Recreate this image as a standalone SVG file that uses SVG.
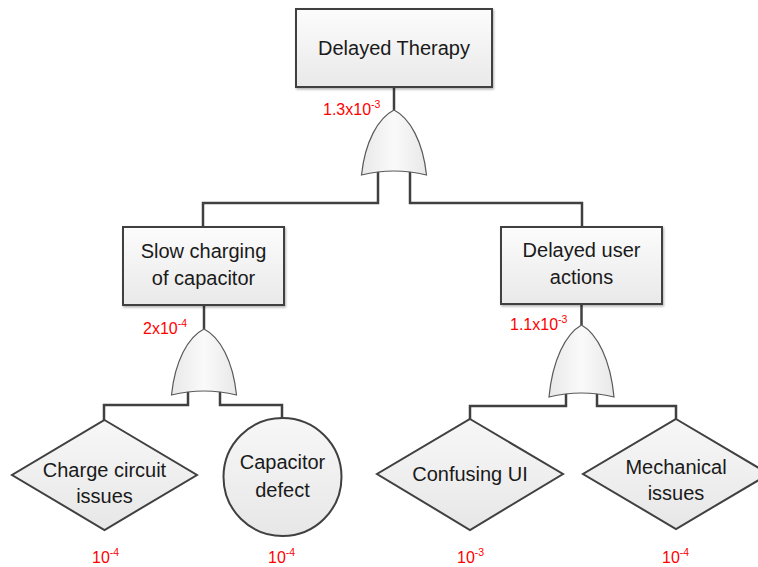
<svg xmlns="http://www.w3.org/2000/svg" width="758" height="567" viewBox="0 0 758 567">
  <defs>
    <linearGradient id="boxFill" x1="0" y1="0" x2="0" y2="1">
      <stop offset="0" stop-color="#fcfcfc"/>
      <stop offset="1" stop-color="#e9e9e9"/>
    </linearGradient>
    <linearGradient id="shapeFill" x1="0" y1="0" x2="0" y2="1">
      <stop offset="0" stop-color="#f7f7f7"/>
      <stop offset="1" stop-color="#e7e7e7"/>
    </linearGradient>
    <linearGradient id="gateFill" x1="0" y1="0" x2="1" y2="0">
      <stop offset="0" stop-color="#e8e8e8"/>
      <stop offset="0.5" stop-color="#fafafa"/>
      <stop offset="1" stop-color="#e8e8e8"/>
    </linearGradient>
    <filter id="shadow" x="-10%" y="-10%" width="120%" height="130%">
      <feDropShadow dx="1" dy="1.5" stdDeviation="1" flood-color="#000" flood-opacity="0.3"/>
    </filter>
  </defs>
  <style>
    .box { fill: url(#boxFill); stroke: #404040; stroke-width: 2; filter: url(#shadow); }
    .shape { fill: url(#shapeFill); stroke: #404040; stroke-width: 2; }
    .gate { fill: url(#gateFill); stroke: #595959; stroke-width: 1.2; }
    .wire { fill: none; stroke: #404040; stroke-width: 2.5; }
    .label { font-family: "Liberation Sans", Arial, sans-serif; font-size: 20px; fill: #1a1a1a; text-anchor: middle; }
    .prob { font-family: "Liberation Sans", Arial, sans-serif; font-size: 16px; fill: #ff0000; }
    .sup { font-size: 10.5px; }
  </style>

  <rect width="758" height="567" fill="#ffffff"/>

  <!-- connectors -->
  <g id="connectors">
    <path class="wire" d="M394,87 V110"/>
    <path class="wire" d="M378,171 V203 H203 V227"/>
    <path class="wire" d="M410,171 V203 H582 V227"/>
    <path class="wire" d="M204,305 V329"/>
    <path class="wire" d="M188,391 V405 H104 V420"/>
    <path class="wire" d="M220,391 V405 H282 V418"/>
    <path class="wire" d="M581.5,304 V325"/>
    <path class="wire" d="M566,393 V406 H470 V419"/>
    <path class="wire" d="M597,393 V406 H676 V419"/>
  </g>

  <!-- top event -->
  <g id="delayed-therapy">
    <rect class="box" x="296" y="9" width="196" height="78"/>
    <text class="label" x="394" y="55">Delayed Therapy</text>
  </g>
  <g id="gate-top">
    <path class="gate" d="M394,110 C410,118 423,142 426.5,175 Q394,167 361.5,175 C365,142 378,118 394,110 Z"/>
    <text class="prob" x="323" y="115">1.3x10<tspan class="sup" dy="-7">-3</tspan></text>
  </g>

  <!-- intermediate events -->
  <g id="slow-charging">
    <rect class="box" x="123" y="227" width="161" height="78"/>
    <text class="label" x="203.5" y="258">Slow charging</text>
    <text class="label" x="203.5" y="285">of capacitor</text>
  </g>
  <g id="gate-left">
    <path class="gate" d="M204,329 C220,337 233,361 236.5,395 Q204,387 171.5,395 C175,361 188,337 204,329 Z"/>
    <text class="prob" x="143" y="334">2x10<tspan class="sup" dy="-7">-4</tspan></text>
  </g>

  <g id="delayed-user-actions">
    <rect class="box" x="501" y="227" width="161" height="77"/>
    <text class="label" x="581.5" y="257">Delayed user</text>
    <text class="label" x="581.5" y="284">actions</text>
  </g>
  <g id="gate-right">
    <path class="gate" d="M581.5,325 C597.5,334 610.5,360 614,397 Q581.5,389 549,397 C552.5,360 565.5,334 581.5,325 Z"/>
    <text class="prob" x="510" y="330">1.1x10<tspan class="sup" dy="-7">-3</tspan></text>
  </g>

  <!-- basic / undeveloped events -->
  <g id="charge-circuit">
    <polygon class="shape" points="104.5,420 197,475 104.5,530 12,475"/>
    <text class="label" x="104.5" y="477">Charge circuit</text>
    <text class="label" x="104.5" y="503">issues</text>
    <text class="prob" x="92" y="563">10<tspan class="sup" dy="-7">-4</tspan></text>
  </g>

  <g id="capacitor-defect">
    <circle class="shape" cx="282.5" cy="477" r="59"/>
    <text class="label" x="282.5" y="469">Capacitor</text>
    <text class="label" x="282.5" y="497">defect</text>
    <text class="prob" x="268" y="563">10<tspan class="sup" dy="-7">-4</tspan></text>
  </g>

  <g id="confusing-ui">
    <polygon class="shape" points="470,419 563,474 470,530 377,474"/>
    <text class="label" x="470" y="481">Confusing UI</text>
    <text class="prob" x="457" y="563">10<tspan class="sup" dy="-7">-3</tspan></text>
  </g>

  <g id="mechanical-issues">
    <polygon class="shape" points="676,419 769,474 676,529 583,474"/>
    <text class="label" x="676" y="474">Mechanical</text>
    <text class="label" x="676" y="500">issues</text>
    <text class="prob" x="662" y="563">10<tspan class="sup" dy="-7">-4</tspan></text>
  </g>
</svg>
